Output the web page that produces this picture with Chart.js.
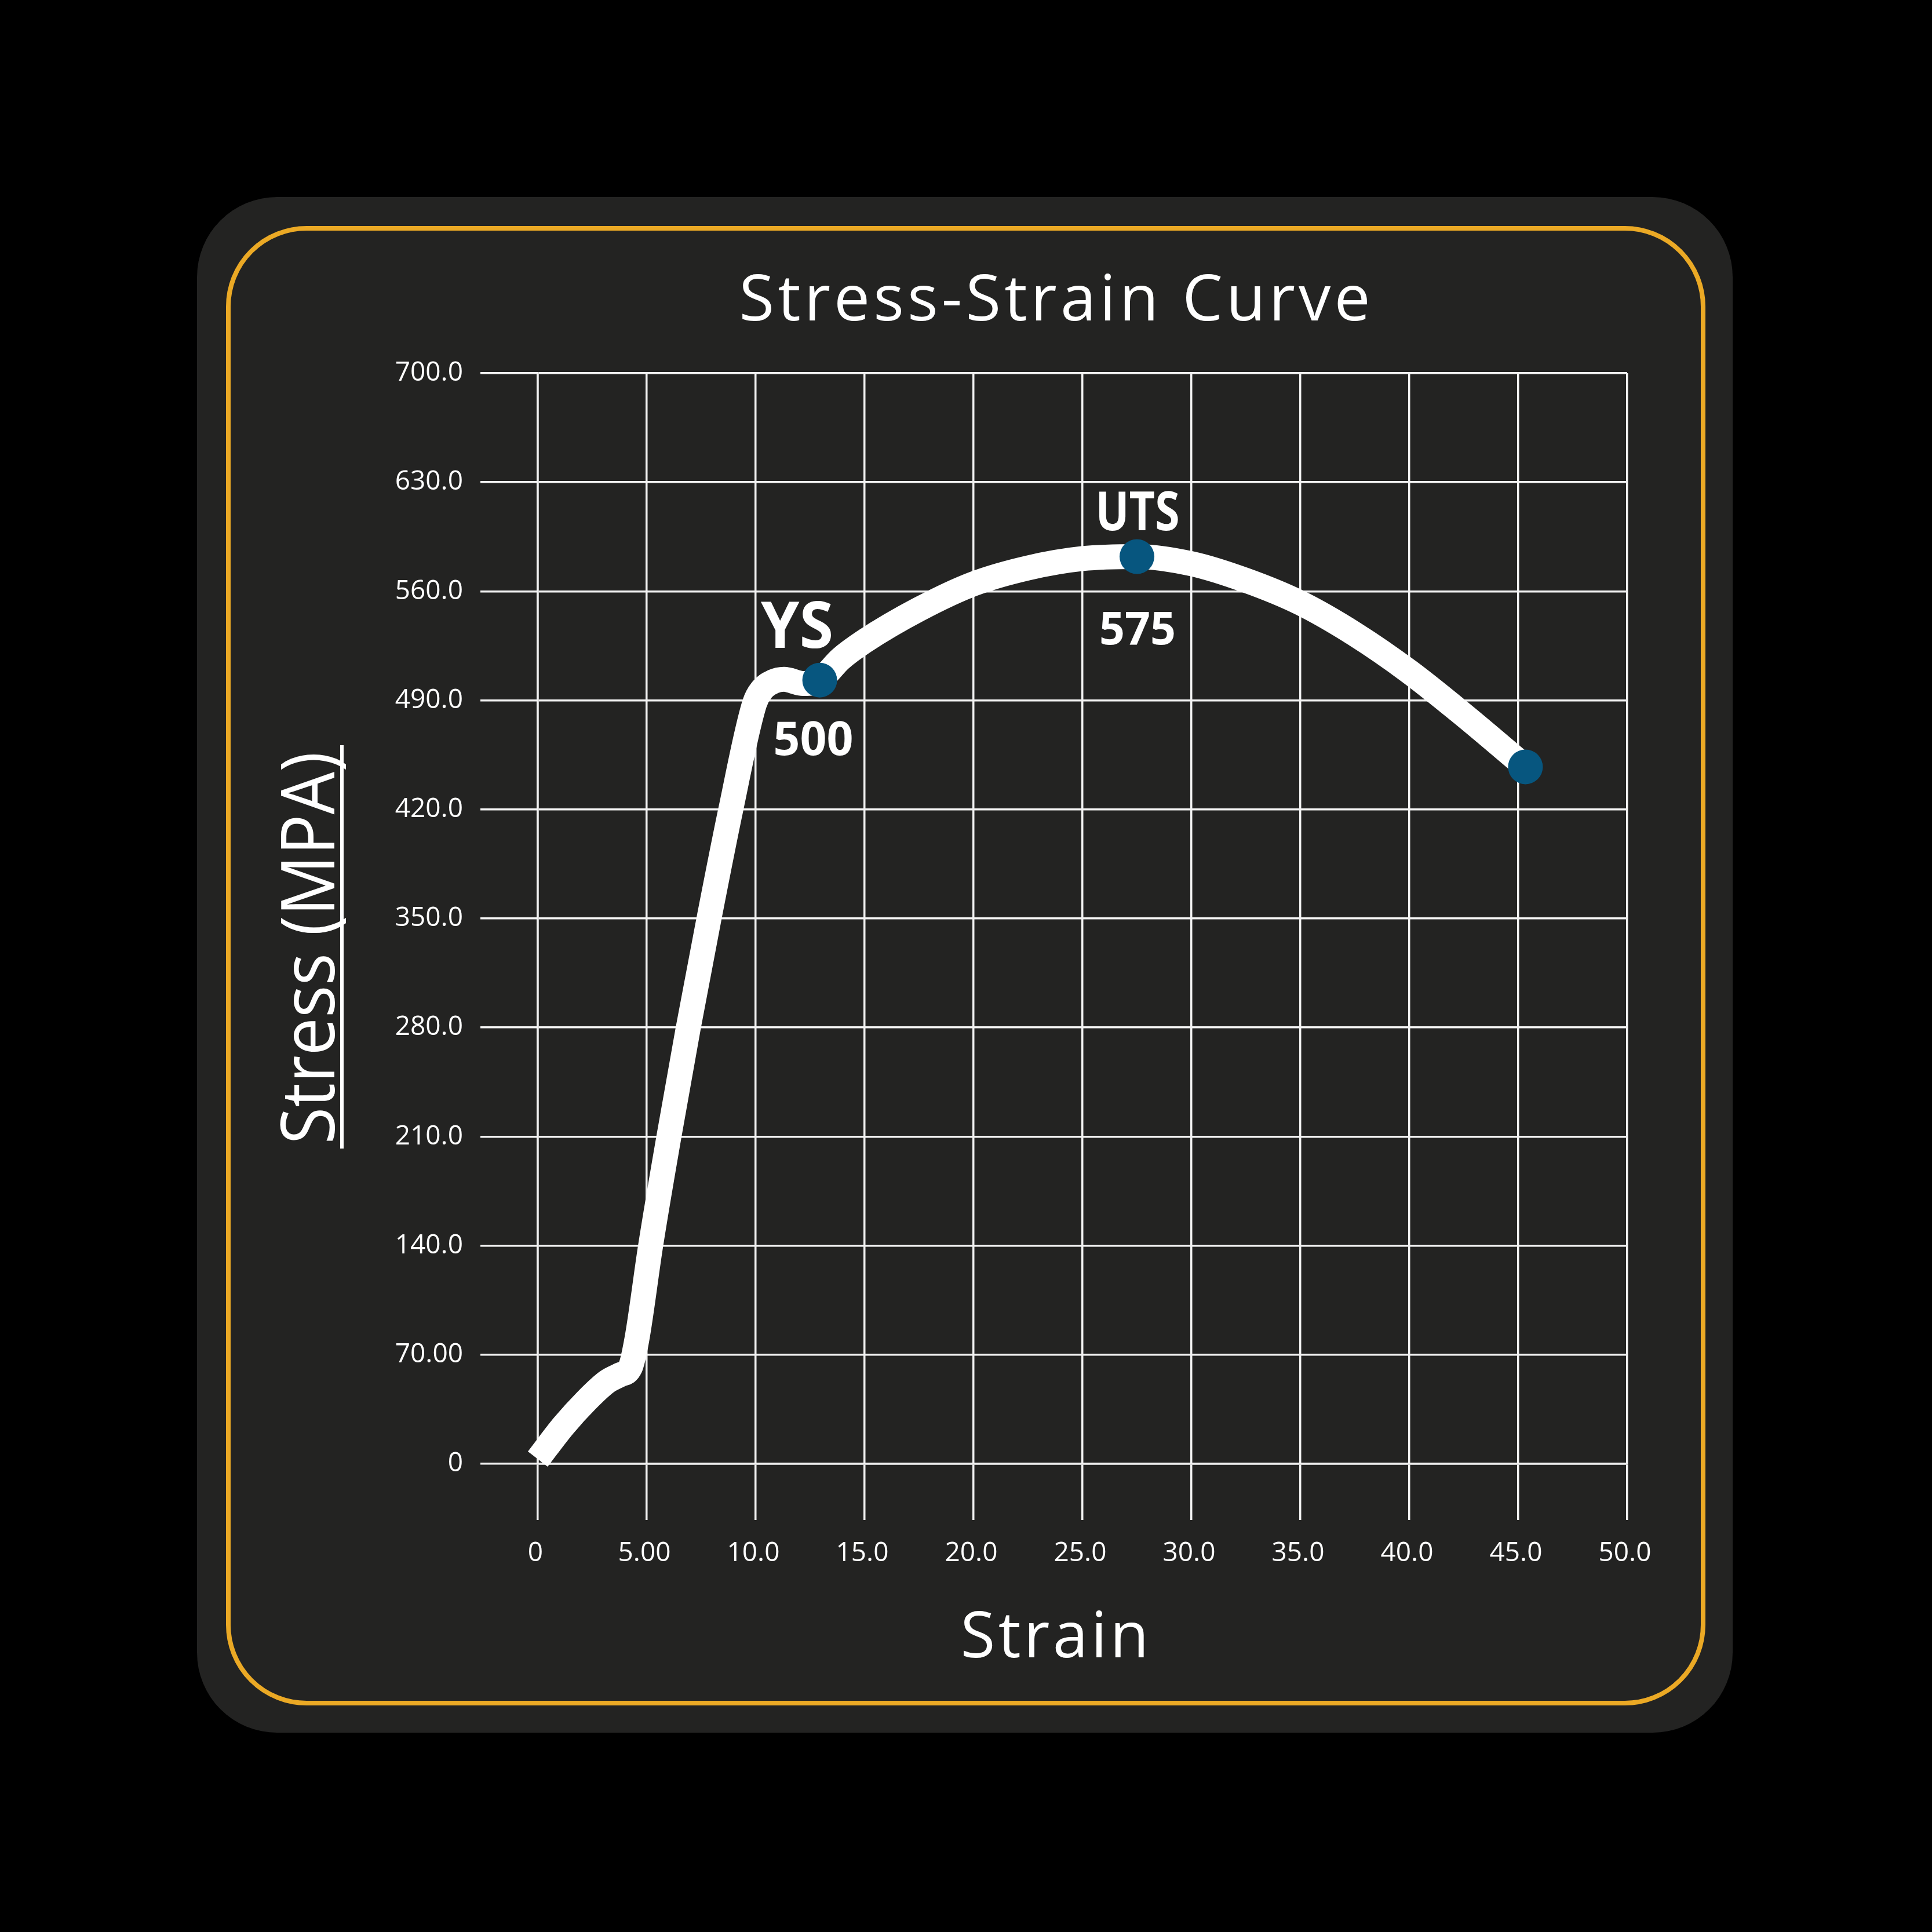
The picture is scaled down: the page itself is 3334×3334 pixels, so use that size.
<!DOCTYPE html>
<html lang="en">
<head>
  <meta charset="UTF-8">
  <title>Stress-Strain Curve</title>
  <script src="https://cdn.jsdelivr.net/npm/chart.js"></script>
  <style>
    html, body { margin: 0; padding: 0; background: #000; }
    canvas { display: block; }
  </style>
</head>
<body>
  <canvas id="stressChart" width="3334" height="3334"></canvas>
  <script>
    // curve: strain (%) and stress (MPa)
    const strain = [0.0, 1.18, 2.24, 3.19, 3.79, 4.25, 4.55, 5.18, 6.02, 6.91, 7.86, 8.86, 9.95, 10.3, 10.8, 11.3, 12.2, 12.94,
                    13.89, 15.0, 17.5, 20.0, 22.5, 25.0, 27.5, 30.0, 32.5, 35.0, 37.5, 40.0, 42.5, 45.33];
    const stress = [3, 24.4, 40.7, 52.8, 57.2, 62, 80, 140, 210, 280, 350, 420, 488, 497, 502, 503.5, 500.8, 503,
                    516.5, 528, 548.5, 564.8, 575, 581, 582.3, 577.7, 567, 552.5, 532.5, 508.4, 480.6, 447.3];

    // marked points: yield strength, ultimate tensile strength, fracture
    const markerStrain = [12.94, 27.5, 45.33];
    const markerStress = [503, 582.3, 447.3];
    const markerNames = ['YS', 'UTS'];
    const markerValues = ['500', '575'];

    const xTickLabels = ['0', '5.00', '10.0', '15.0', '20.0', '25.0', '30.0', '35.0', '40.0', '45.0', '50.0'];
    const yTickLabels = ['0', '70.00', '140.0', '210.0', '280.0', '350.0', '420.0', '490.0', '560.0', '630.0', '700.0'];

    const FONT = '"Open Sans", "Noto Sans", sans-serif';
    const CAP = 0.714; // cap height of Open Sans per em

    // draws text so that its caps are centred on (cx, capMid) and it spans `width`
    function drawText(ctx, text, cx, capMid, capH, weight, width, spaced) {
      const size = capH / CAP;
      ctx.save();
      ctx.font = `${weight} ${size}px ${FONT}`;
      ctx.fillStyle = '#ffffff';
      ctx.textBaseline = 'alphabetic';
      ctx.textAlign = 'left';
      const natural = ctx.measureText(text).width;
      const base = capMid + capH / 2;
      if (spaced) {
        ctx.letterSpacing = ((width - natural) / (text.length - 1)) + 'px';
        ctx.fillText(text, cx - width / 2, base);
      } else {
        ctx.translate(cx, base);
        ctx.scale(width / natural, 1);
        ctx.fillText(text, -natural / 2, 0);
      }
      ctx.restore();
    }

    function roundRect(ctx, x, y, w, h, r) {
      ctx.beginPath();
      ctx.moveTo(x + r, y);
      ctx.arcTo(x + w, y, x + w, y + h, r);
      ctx.arcTo(x + w, y + h, x, y + h, r);
      ctx.arcTo(x, y + h, x, y, r);
      ctx.arcTo(x, y, x + w, y, r);
      ctx.closePath();
    }

    // dark card with the orange frame
    const panelPlugin = {
      id: 'panel',
      beforeDraw(chart) {
        const ctx = chart.ctx;
        ctx.save();
        ctx.fillStyle = '#000000';
        ctx.fillRect(0, 0, chart.width, chart.height);
        roundRect(ctx, 340, 340, 2650, 2650, 138);
        ctx.fillStyle = '#232322';
        ctx.fill();
        roundRect(ctx, 394, 394, 2545, 2545, 135);
        ctx.strokeStyle = '#eba925';
        ctx.lineWidth = 8;
        ctx.stroke();
        ctx.restore();
      }
    };

    // title, axis titles
    const titlePlugin = {
      id: 'titles',
      afterDraw(chart) {
        const ctx = chart.ctx;
        drawText(ctx, 'Stress-Strain Curve', 1820, 513, 79, 'normal', 1089, true);
        drawText(ctx, 'Strain', 1820, 2821, 78, 'normal', 325, true);

        ctx.save();
        ctx.translate(577, 1636);
        ctx.rotate(-Math.PI / 2);
        drawText(ctx, 'Stress (MPA)', 0, -46, 92, 'normal', 677, false);
        ctx.restore();
        ctx.save();
        ctx.fillStyle = '#ffffff';
        ctx.fillRect(587, 1286, 6, 696);
        ctx.restore();
      }
    };

    // YS / UTS labels next to their points
    const labelPlugin = {
      id: 'pointLabels',
      afterDatasetsDraw(chart) {
        const ctx = chart.ctx;
        const xs = chart.scales.x, ys = chart.scales.y;
        const ysX = xs.getPixelForValue(markerStrain[0]);
        const ysY = ys.getPixelForValue(markerStress[0]);
        drawText(ctx, markerNames[0], ysX - 39, ysY - 96, 80, 'bold', 125, false);
        drawText(ctx, markerValues[0], ysX - 11, ysY + 100, 58, 'bold', 138, false);
        const utX = xs.getPixelForValue(markerStrain[1]);
        const utY = ys.getPixelForValue(markerStress[1]);
        drawText(ctx, markerNames[1], utX + 1, utY - 78, 66, 'bold', 145, false);
        drawText(ctx, markerValues[1], utX + 1, utY + 124, 56, 'bold', 132, false);
      }
    };

    const gridColor = '#f2f2f2';

    new Chart(document.getElementById('stressChart').getContext('2d'), {
      type: 'line',
      data: {
        datasets: [
          {
            label: 'Points',
            data: markerStrain.map((x, i) => ({ x: x, y: markerStress[i] })),
            showLine: false,
            pointRadius: 30,
            pointHoverRadius: 30,
            pointBackgroundColor: '#07567f',
            pointBorderWidth: 0,
            clip: false
          },
          {
            label: 'Stress',
            data: strain.map((x, i) => ({ x: x, y: stress[i] })),
            borderColor: '#ffffff',
            borderWidth: 43,
            borderCapStyle: 'butt',
            borderJoinStyle: 'round',
            cubicInterpolationMode: 'monotone',
            pointRadius: 0,
            fill: false,
            clip: false
          }
        ]
      },
      options: {
        responsive: false,
        animation: false,
        devicePixelRatio: 1,
        layout: { padding: { top: 644, right: 526, left: 0, bottom: 0 } },
        plugins: {
          legend: { display: false },
          tooltip: { enabled: false },
          title: { display: false }
        },
        scales: {
          x: {
            type: 'linear',
            min: 0,
            max: 50,
            afterFit: scale => { scale.height = 808; },
            ticks: {
              stepSize: 5,
              autoSkip: false,
              maxRotation: 0,
              padding: 30,
              labelOffset: -4,
              color: '#ffffff',
              font: { family: FONT, size: 46 },
              callback: (value, index) => xTickLabels[index]
            },
            grid: { color: gridColor, lineWidth: 3.5, tickLength: 97 },
            border: { color: gridColor, width: 3.5 }
          },
          y: {
            min: 0,
            max: 700,
            afterFit: scale => { scale.width = 928; },
            ticks: {
              stepSize: 70,
              autoSkip: false,
              padding: 30,
              color: '#ffffff',
              font: { family: FONT, size: 46 },
              callback: (value, index) => yTickLabels[index]
            },
            grid: { color: gridColor, lineWidth: 3.5, tickLength: 99 },
            border: { color: gridColor, width: 3.5 }
          }
        }
      },
      plugins: [panelPlugin, titlePlugin, labelPlugin]
    });
  </script>
</body>
</html>
